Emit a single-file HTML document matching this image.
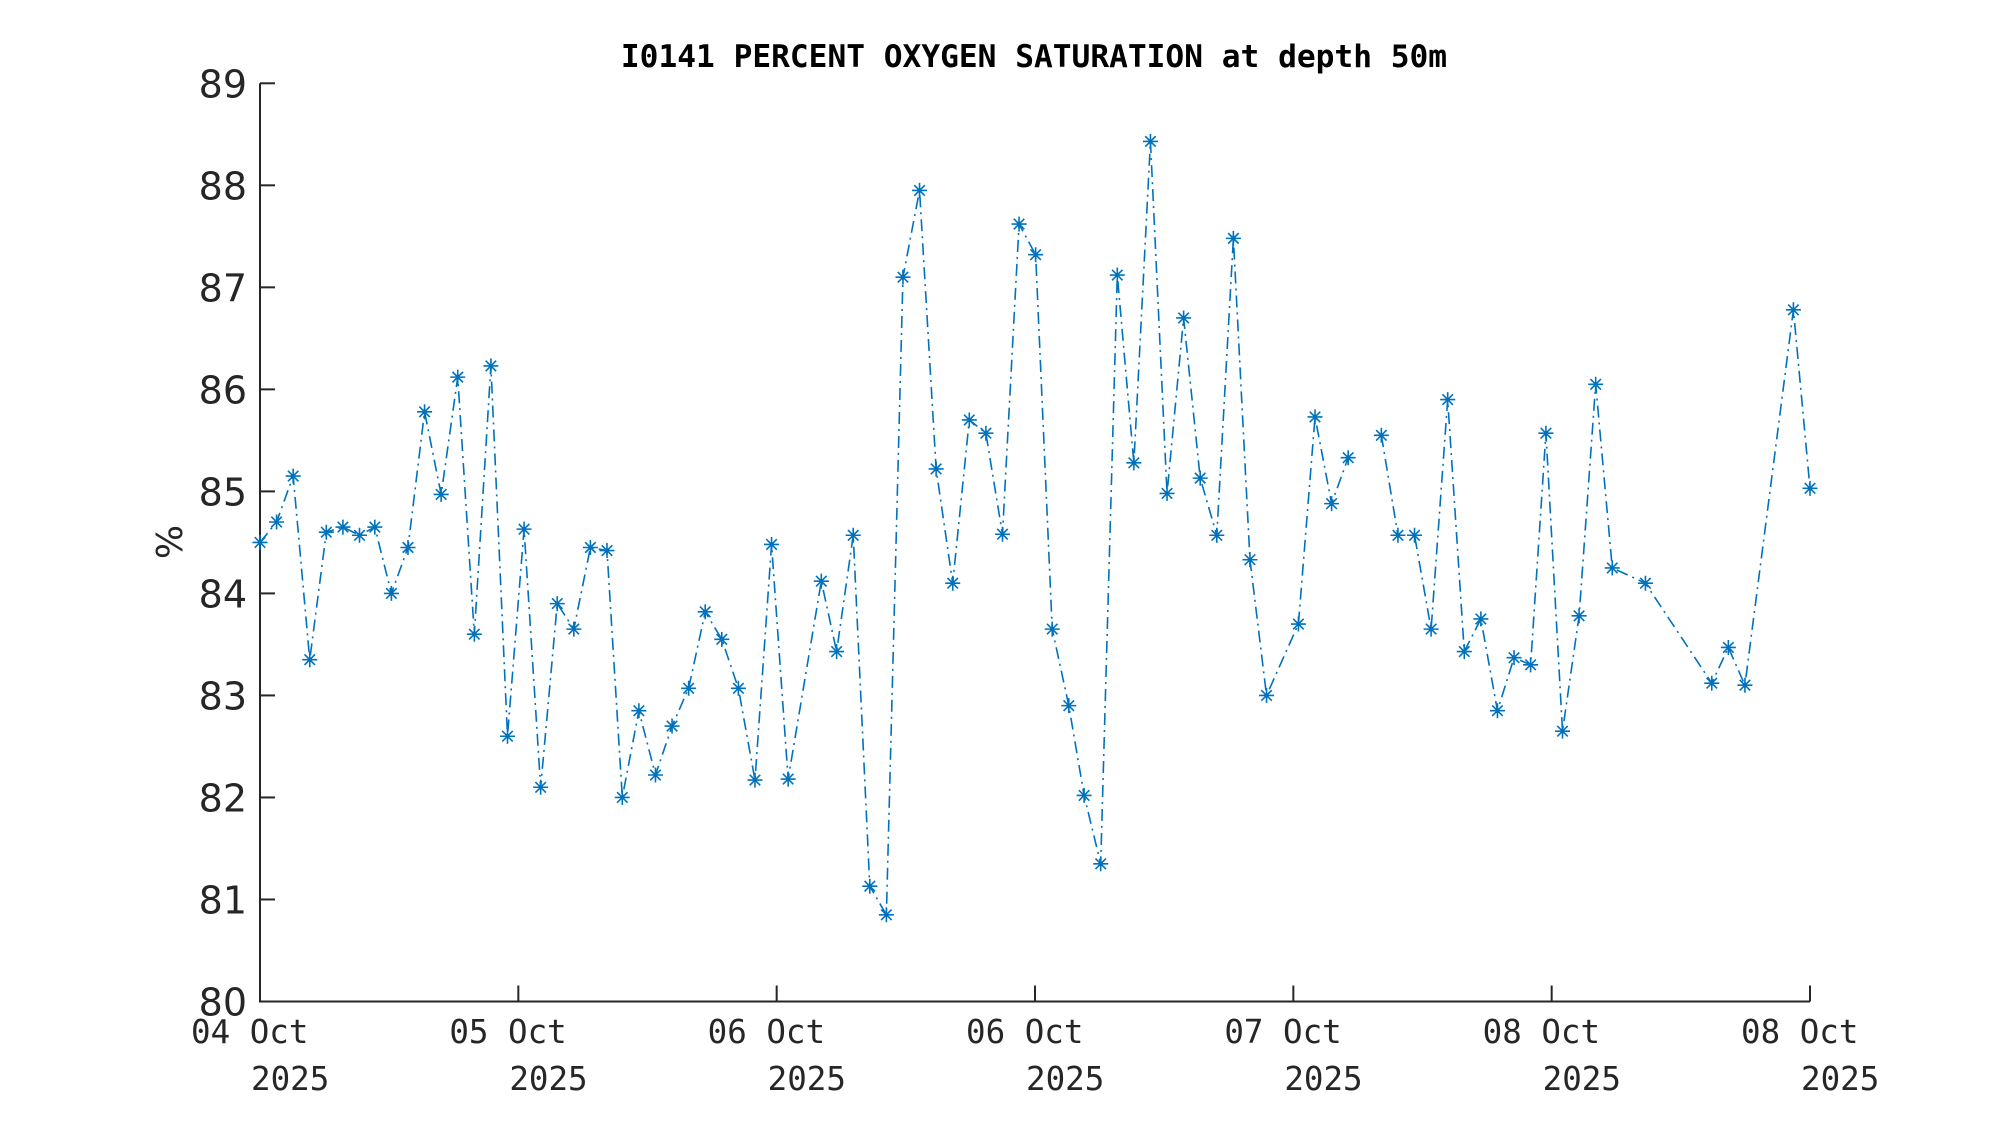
<!DOCTYPE html>
<html><head><meta charset="utf-8"><style>
html,body{margin:0;padding:0;background:#fff;}
svg{display:block}
</style></head><body>
<svg id="s" width="2000" height="1125" xmlns="http://www.w3.org/2000/svg">
<rect width="2000" height="1125" fill="#fff"/>
<text x="1034" y="67" text-anchor="middle" font-family="'DejaVu Sans Mono','Liberation Mono',monospace" font-weight="bold" font-size="31.2" fill="#000">I0141 PERCENT OXYGEN SATURATION at depth 50m</text>
<g id="ax" stroke="#262626" stroke-width="2" fill="none"></g>
<g id="lab" font-family="'DejaVu Sans','Liberation Sans',sans-serif" font-size="38" fill="#262626"></g>
<text transform="translate(182,542) rotate(-90)" text-anchor="middle" font-family="'DejaVu Sans','Liberation Sans',sans-serif" font-size="36" fill="#262626">%</text>
<g id="data"></g>
</svg>
<script>
const NS="http://www.w3.org/2000/svg";
const L=260,R=1810,T=83.3,B=1001.5;
const ax=document.getElementById('ax'),lab=document.getElementById('lab'),dg=document.getElementById('data');
function el(t,a,p){const e=document.createElementNS(NS,t);for(const k in a)e.setAttribute(k,a[k]);p.appendChild(e);return e;}
el('path',{d:`M${L},${T}V${B}H${R}`},ax);
for(let v=80;v<=89;v++){const y=B-(v-80)*(B-T)/9;el('path',{d:`M${L},${y}h15`},ax);const t=el('text',{x:247,y:y+14,'text-anchor':'end'},lab);t.textContent=v;}
const days=['04','05','06','06','07','08','08'];
for(let i=0;i<7;i++){const x=L+i*(R-L)/6;el('path',{d:`M${x},${B}v-16`},ax);
const t1=el('text',{x:x-69,y:1043,'font-family':"'DejaVu Sans Mono','Liberation Mono',monospace",'font-size':'32.5'},lab);t1.textContent=days[i]+' Oct';
const t2=el('text',{x:x-9,y:1090,'font-family':"'DejaVu Sans Mono','Liberation Mono',monospace",'font-size':'32.5'},lab);t2.textContent='2025';}
const d=[[204,84.5],[217,84.7],[230,85.15],[243,83.35],[256,84.6],[269,84.65],[282,84.57],[294,84.65],[307,84.0],[320,84.45],[333,85.78],[346,84.97],[359,86.12],[372,83.6],[385,86.23],[398,82.6],[411,84.63],[424,82.1],[437,83.9],[450,83.65],[463,84.45],[476,84.42],[488,82.0],[501,82.85],[514,82.22],[527,82.7],[540,83.07],[553,83.82],[566,83.55],[579,83.07],[592,82.17],[605,84.48],[618,82.18],[644,84.12],[656,83.43],[669,84.57],[682,81.13],[695,80.85],[708,87.1],[721,87.95],[734,85.22],[747,84.1],[760,85.7],[773,85.57],[786,84.58],[799,87.62],[812,87.32],[825,83.65],[838,82.9],[850,82.02],[863,81.35],[876,87.12],[889,85.28],[902,88.43],[915,84.98],[928,86.7],[941,85.13],[954,84.57],[967,87.48],[980,84.33],[993,83.0],[1018,83.7],[1031,85.73],[1044,84.88],[1057,85.33],null,[1083,85.55],[1096,84.57],[1109,84.57],[1122,83.65],[1135,85.9],[1148,83.43],[1161,83.75],[1174,82.85],[1187,83.37],[1200,83.3],[1212,85.57],[1225,82.65],[1238,83.78],[1251,86.05],[1264,84.25],[1290,84.1],[1342,83.12],[1355,83.47],[1368,83.1],[1406,86.78],[1419,85.03]];
const C='#0072BD';
let segs=[],cur=[];const pts=[];
for(const p of d){if(!p){segs.push(cur);cur=[];continue;}const x=L+(p[0]-204)*(R-L)/1215,y=B-(p[1]-80)*(B-T)/9;cur.push([x,y]);pts.push([x,y]);}
segs.push(cur);
for(const s of segs){el('polyline',{points:s.map(p=>p.join(',')).join(' '),fill:'none',stroke:C,'stroke-width':1.6,'stroke-dasharray':'12,5,2,5'},dg);}
const r=7.5;let m='';
for(const [x,y] of pts){m+=`M${x-r},${y}h${2*r}M${x},${y-r}v${2*r}M${x-r*0.7},${y-r*0.7}l${1.4*r},${1.4*r}M${x-r*0.7},${y+r*0.7}l${1.4*r},${-1.4*r}`;}
el('path',{d:m,stroke:C,'stroke-width':1.6,fill:'none'},dg);
</script>
</body></html>
